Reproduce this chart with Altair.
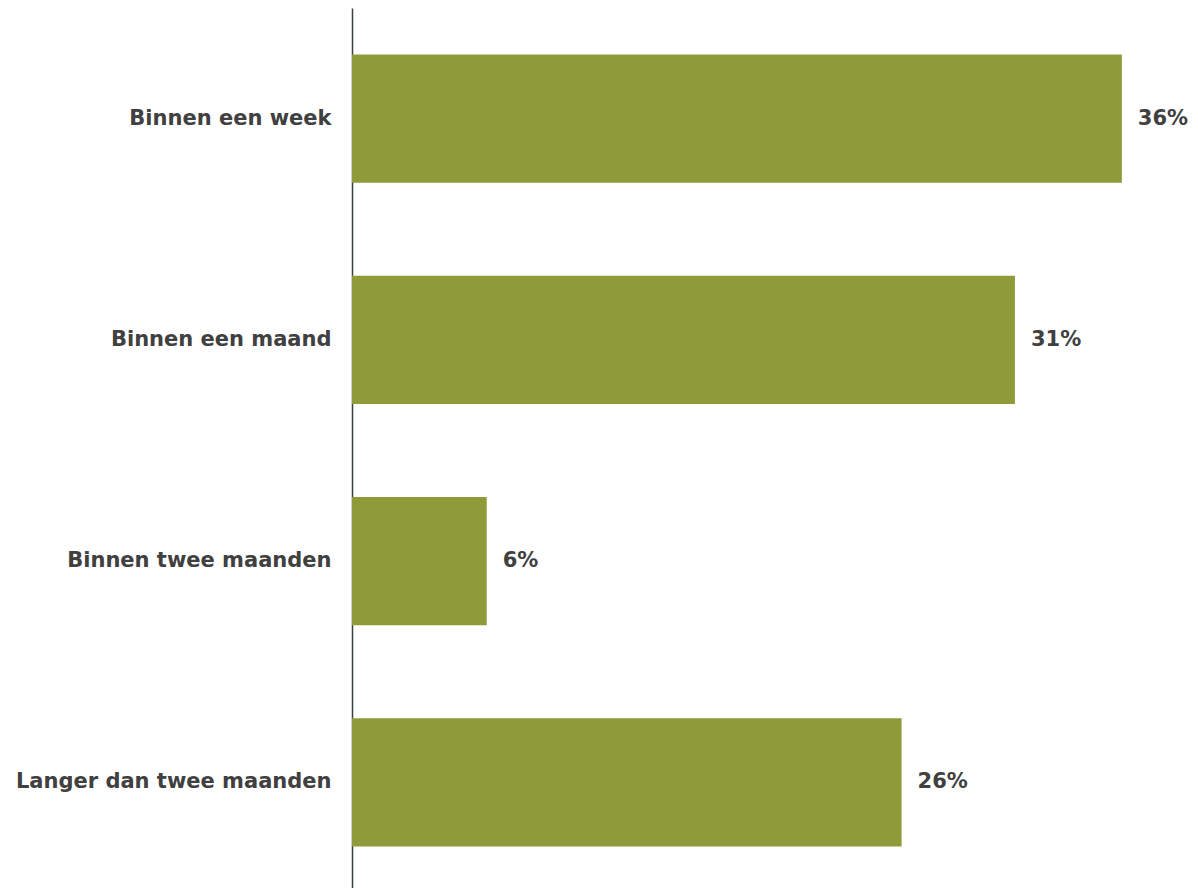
import altair as alt
import pandas as pd

categories = ["Binnen een week", "Binnen een maand", "Binnen twee maanden", "Langer dan twee maanden"]
values = [36.0, 31.0, 6.3, 25.7]
labels = ["36%", "31%", "6%", "26%"]

df = pd.DataFrame({"cat": categories, "val": values, "lab": labels})

FONT = "DejaVu Sans"

y = alt.Y("cat:N", sort=categories, title=None,
          scale=alt.Scale(paddingInner=0.42, paddingOuter=0.21),
          axis=alt.Axis(ticks=False, labelPadding=21, labelFont=FONT, labelFontSize=21,
                        labelFontWeight="bold", labelColor="#404040", domainColor="#37423f",
                        domainWidth=1.5, labelLimit=400, minExtent=344, maxExtent=344))
x = alt.X("val:Q", title=None, scale=alt.Scale(domain=[0, 39], nice=False),
          axis=None)

bars = alt.Chart(df).mark_bar(color="#8f9a38").encode(x=x, y=y)
text = alt.Chart(df).mark_text(align="left", dx=16, font=FONT, fontSize=21,
                               fontWeight="bold", color="#404040").encode(
    x=x, y=alt.Y("cat:N", sort=categories), text="lab:N")

chart = (bars + text).properties(width=834, height=885, padding=0).configure_view(stroke=None)

chart.save("out.html", embed_options={"renderer": "svg", "actions": False})
